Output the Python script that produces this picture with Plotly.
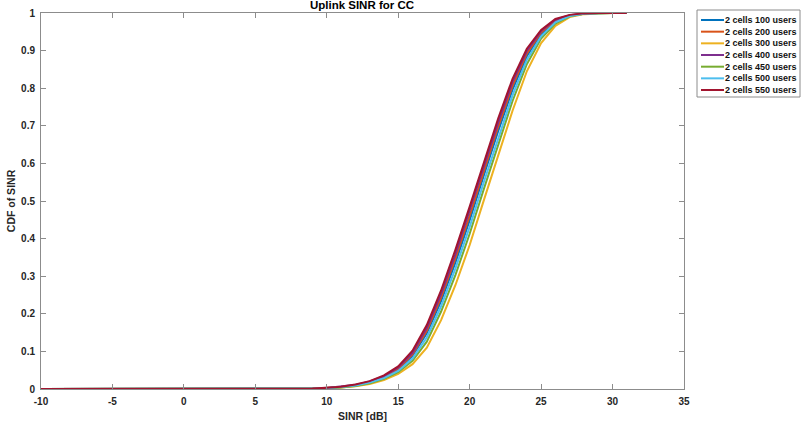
import plotly.graph_objects as go

sinr = list(range(-10, 32))
zeros = [0.0] * 19  # SINR -10 .. 8

cdf_100 = zeros + [0.001, 0.002, 0.005, 0.010, 0.018, 0.031, 0.052, 0.088, 0.148, 0.234, 0.336, 0.449,
                   0.569, 0.686, 0.796, 0.885, 0.944, 0.978, 0.993, 0.998, 1.0, 1.0, 1.0]
cdf_200 = zeros + [0.001, 0.003, 0.005, 0.010, 0.019, 0.032, 0.054, 0.092, 0.155, 0.243, 0.347, 0.461,
                   0.581, 0.698, 0.806, 0.892, 0.948, 0.980, 0.993, 0.998, 1.0, 1.0, 1.0]
cdf_300 = zeros + [0.000, 0.002, 0.004, 0.007, 0.013, 0.024, 0.040, 0.066, 0.110, 0.183, 0.276, 0.383,
                   0.503, 0.622, 0.740, 0.845, 0.920, 0.966, 0.989, 0.997, 0.999, 1.0, 1.0]
cdf_400 = zeros + [0.001, 0.003, 0.006, 0.011, 0.020, 0.034, 0.057, 0.096, 0.162, 0.252, 0.358, 0.473,
                   0.593, 0.709, 0.816, 0.899, 0.952, 0.982, 0.994, 0.999, 1.0, 1.0, 1.0]
cdf_450 = zeros + [0.001, 0.002, 0.004, 0.008, 0.015, 0.027, 0.045, 0.075, 0.126, 0.206, 0.303, 0.413,
                   0.533, 0.651, 0.766, 0.864, 0.932, 0.972, 0.991, 0.998, 1.0, 1.0, 1.0]
cdf_500 = zeros + [0.001, 0.002, 0.005, 0.009, 0.017, 0.029, 0.048, 0.081, 0.137, 0.220, 0.320, 0.431,
                   0.551, 0.669, 0.781, 0.875, 0.938, 0.975, 0.992, 0.998, 1.0, 1.0, 1.0]
cdf_550 = zeros + [0.001, 0.003, 0.006, 0.012, 0.021, 0.036, 0.060, 0.102, 0.170, 0.262, 0.370, 0.485,
                   0.605, 0.720, 0.825, 0.905, 0.955, 0.984, 0.995, 0.999, 1.0, 1.0, 1.0]

names = ["2 cells 100 users", "2 cells 200 users", "2 cells 300 users", "2 cells 400 users",
         "2 cells 450 users", "2 cells 500 users", "2 cells 550 users"]
series = [cdf_100, cdf_200, cdf_300, cdf_400, cdf_450, cdf_500, cdf_550]
colors = ["#0072BD", "#D95319", "#EDB120", "#7E2F8E", "#77AC30", "#4DBEEE", "#A2142F"]

x_ticks = list(range(-10, 40, 5))
y_ticks = [i / 10 for i in range(11)]
y_tick_labels = ["0", "0.1", "0.2", "0.3", "0.4", "0.5", "0.6", "0.7", "0.8", "0.9", "1"]

W, H = 802, 428
ML, MR, MT, MB = 41, 118, 13, 39
PW, PH = W - ML - MR, H - MT - MB


def px_x(px):
    return (px - ML) / PW


def px_y(py):
    return (H - MB - py) / PH


fig = go.Figure()
for n, s, c in zip(names, series, colors):
    fig.add_trace(go.Scatter(x=sinr, y=s, mode="lines", name=n,
                             line=dict(color=c, width=2), showlegend=False))

font = "Liberation Sans, Arial, sans-serif"
axis_common = dict(showline=True, linecolor="#8c8c8c", linewidth=1, mirror="ticks",
                   ticks="inside", ticklen=5, tickcolor="#8c8c8c", showgrid=False,
                   zeroline=False, automargin=False,
                   tickfont=dict(family=font, size=10, color="#262626"))

# Legend box (drawn as layout decoration)
shapes = [dict(type="rect", xref="paper", yref="paper",
               x0=px_x(697), x1=px_x(800), y0=px_y(97), y1=px_y(10),
               line=dict(color="#8c8c8c", width=1), fillcolor="white", layer="above")]
annotations = []
for i, (n, c) in enumerate(zip(names, colors)):
    yc = 20 + i * 11.67
    shapes.append(dict(type="line", xref="paper", yref="paper",
                       x0=px_x(701), x1=px_x(724), y0=px_y(yc), y1=px_y(yc),
                       line=dict(color=c, width=2), layer="above"))
    annotations.append(dict(xref="paper", yref="paper", x=px_x(723), y=px_y(yc),
                            xanchor="left", yanchor="middle", showarrow=False,
                            text=f"<b>{n}</b>",
                            font=dict(family=font, size=9, color="#111111")))

fig.update_layout(
    width=W, height=H,
    margin=dict(l=ML, r=MR, t=MT, b=MB),
    paper_bgcolor="white", plot_bgcolor="white",
    title=dict(text="<b>Uplink SINR for CC</b>", x=362 / W, xanchor="center",
               y=0.998, yanchor="top", yref="container",
               font=dict(family=font, size=11.5, color="black")),
    xaxis=dict(range=[-10, 35], tickvals=x_ticks, ticktext=[f"<b>{v}</b>" for v in x_ticks],
               ticklabelstandoff=3,
               title=dict(text="<b>SINR [dB]</b>", standoff=6,
                          font=dict(family=font, size=10.5, color="#262626")),
               **axis_common),
    yaxis=dict(range=[0, 1], tickvals=y_ticks, ticktext=[f"<b>{t}</b>" for t in y_tick_labels],
               ticklabelstandoff=3,
               title=dict(text="<b>CDF of SINR</b>", standoff=3,
                          font=dict(family=font, size=10.5, color="#262626")),
               **axis_common),
    shapes=shapes,
    annotations=annotations,
    showlegend=False,
)

fig.write_html("out.html")
